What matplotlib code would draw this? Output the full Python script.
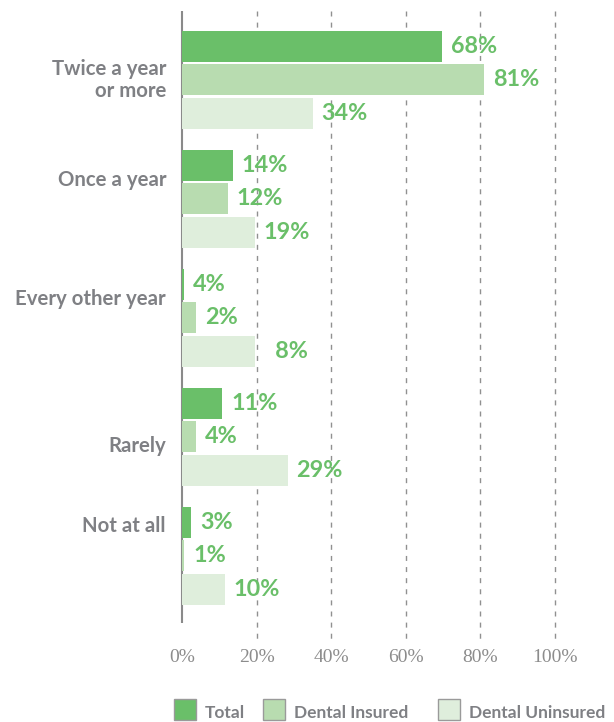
import matplotlib
matplotlib.use("Agg")
import matplotlib.pyplot as plt
from matplotlib.patches import Rectangle

# ---- data ----
categories = ["Twice a year\nor more", "Once a year", "Every other year", "Rarely", "Not at all"]
series = ["Total", "Dental Insured", "Dental Uninsured"]
# bar lengths as drawn in the picture (%)
total_bar = [69.7, 13.6, 0.6, 10.8, 2.5]
insured_bar = [81.0, 12.2, 3.7, 3.7, 0.6]
uninsured_bar = [35.0, 19.5, 19.5, 28.3, 11.5]
# value labels as printed
total_lbl = ["68%", "14%", "4%", "11%", "3%"]
insured_lbl = ["81%", "12%", "2%", "4%", "1%"]
uninsured_lbl = ["34%", "19%", "  8%", "29%", "10%"]
xticks = [0, 20, 40, 60, 80, 100]
xtick_labels = ["0%", "20%", "40%", "60%", "80%", "100%"]

colors = ["#6abf69", "#b8dcb0", "#dfeedc"]
label_green = "#6abf69"
gray = "#7f8084"
FONT = ["Lato", "DejaVu Sans"]

W, H = 614, 722
fig = plt.figure(figsize=(W / 100, H / 100), dpi=100)
ax = fig.add_axes([0, 0, 1, 1])
ppu = 3.73  # pixels per percent
x0 = 182
ax.set_xlim(-x0 / ppu, (W - x0) / ppu)
ax.set_ylim(H, 0)
ax.axis("off")

# layout: baseline (last line) of each category label, in pixels from top
cat_baseline = [97, 186, 305, 451.7, 531.7]

# grid lines
ax.vlines(xticks[1:], 11, 643, colors="#909090", linewidth=1.0,
          linestyles=(0, (3.6, 4.4)), zorder=0)
ax.vlines([0], 11, 623, colors="#8a8a8a", linewidth=1.5, zorder=1)

bars = [total_bar, insured_bar, uninsured_bar]
lbls = [total_lbl, insured_lbl, uninsured_lbl]
offsets = [-33, 0, 33.5]
pix = 1 / ppu
for i, cat in enumerate(categories):
    gc = 79.5 + 119.1 * i
    for s in range(3):
        yc = gc + offsets[s]
        v = bars[s][i]
        ax.barh(yc, v, height=31, color=colors[s], zorder=2, linewidth=0)
        ax.text(v + 9 * pix, yc, lbls[s][i], ha="left", va="center",
                fontsize=16.8, fontweight="bold", color=label_green,
                family=FONT, zorder=3)
    ax.text(-16 * pix, cat_baseline[i], cat, ha="right", va="baseline",
            fontsize=14.7, fontweight="bold", color=gray, family=FONT,
            linespacing=1.15)

for t, lab in zip(xticks, xtick_labels):
    ax.text(t, 658, lab, ha="center", va="center", fontsize=14,
            color="#8c8c8c", family="Liberation Serif")

# legend
leg_x = [174, 263, 438]
for s, name in enumerate(series):
    r = Rectangle(((leg_x[s] - x0) / ppu, 699), 22 / ppu, 21,
                  facecolor=colors[s], edgecolor="#9a9a9a", linewidth=1.0,
                  clip_on=False)
    ax.add_patch(r)
    ax.text((leg_x[s] + 31 - x0) / ppu, 717.5, name, ha="left", va="baseline",
            fontsize=12.5, fontweight="bold", color=gray, family=FONT)

fig.savefig("out.png", dpi=100)
